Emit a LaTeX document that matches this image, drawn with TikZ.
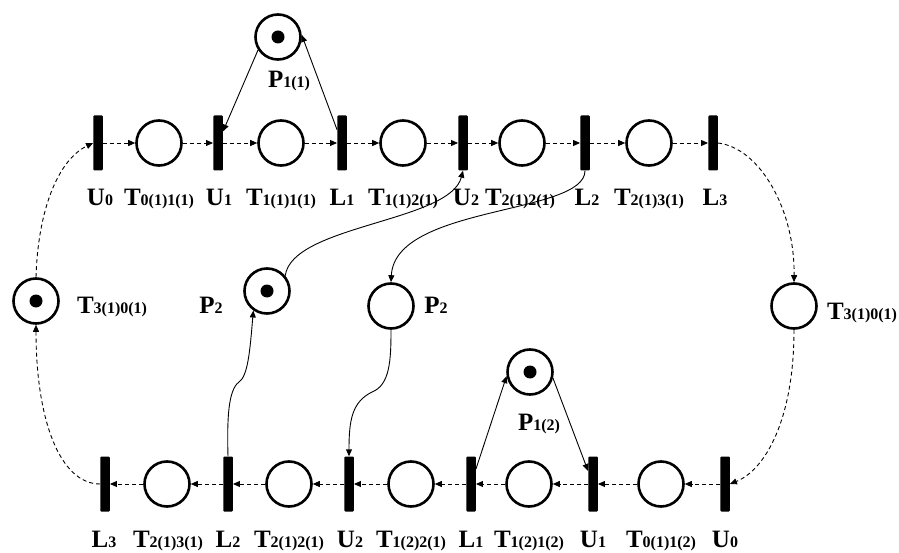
\documentclass[tikz,border=0pt]{standalone}
\usepackage{fontspec}
\setmainfont{Liberation Serif}
\usetikzlibrary{arrows.meta}

% bold name with a smaller index set on the baseline
\newcommand\plbl[2]{\textbf{#1{\fontsize{16}{16}\selectfont #2}}}

\begin{document}
\begin{tikzpicture}[x=1pt,y=-1pt,
  place/.style={circle,draw,line width=2.6pt,minimum size=45pt,inner sep=0pt},
  token/.style={place,path picture={\fill (path picture bounding box.center) circle (6.5pt);}},
  bar/.style={rectangle,fill,minimum width=9.5pt,minimum height=55pt,inner sep=0pt,rounded corners=1pt},
  lbl/.style={anchor=base,font=\fontsize{25}{25}\selectfont,inner sep=0pt},
  tip/.style={-{Triangle[length=7pt,width=6pt]}},
  dasharr/.style={tip,line width=0.9pt,dash pattern=on 4pt off 3pt},
  solidarr/.style={tip,line width=0.9pt}]

\useasboundingbox (0,0) rectangle (899,553);

% ---- upper row ----
\node[bar]   (tU0) at (98,143)  {};
\node[place] (tA)  at (159,143) {};
\node[bar]   (tU1) at (218,143) {};
\node[place] (tB)  at (281,143) {};
\node[bar]   (tL1) at (342,143) {};
\node[place] (tC)  at (403,143) {};
\node[bar]   (tU2) at (463,143) {};
\node[place] (tD)  at (522,143) {};
\node[bar]   (tL2) at (585,143) {};
\node[place] (tE)  at (649,143) {};
\node[bar]   (tL3) at (713,143) {};

\node[lbl] (ltU0) at (100,206) {\plbl{U}{0}};
\node[lbl] (ltA)  at (159,206) {\plbl{T}{0(1)1(1)}};
\node[lbl] (ltU1) at (219,206) {\plbl{U}{1}};
\node[lbl] (ltB)  at (281,206) {\plbl{T}{1(1)1(1)}};
\node[lbl] (ltL1) at (342,206) {\plbl{L}{1}};
\node[lbl] (ltC)  at (403,206) {\plbl{T}{1(1)2(1)}};
\node[lbl] (ltU2) at (466,206) {\plbl{U}{2}};
\node[lbl] (ltD)  at (520,206) {\plbl{T}{2(1)2(1)}};
\node[lbl] (ltL2) at (587,206) {\plbl{L}{2}};
\node[lbl] (ltE)  at (649,206) {\plbl{T}{2(1)3(1)}};
\node[lbl] (ltL3) at (715,206) {\plbl{L}{3}};

% ---- lower row ----
\node[bar]   (bL3) at (105,484) {};
\node[place] (bA)  at (167,484) {};
\node[bar]   (bL2) at (228,484) {};
\node[place] (bB)  at (289,484) {};
\node[bar]   (bU2) at (349,484) {};
\node[place] (bC)  at (411,484) {};
\node[bar]   (bL1) at (471,484) {};
\node[place] (bD)  at (529,484) {};
\node[bar]   (bU1) at (593,484) {};
\node[place] (bE)  at (661,484) {};
\node[bar]   (bU0) at (725,484) {};

\node[lbl] (lbL3) at (104,547) {\plbl{L}{3}};
\node[lbl] (lbA)  at (168,547) {\plbl{T}{2(1)3(1)}};
\node[lbl] (lbL2) at (228,547) {\plbl{L}{2}};
\node[lbl] (lbB)  at (289,547) {\plbl{T}{2(1)2(1)}};
\node[lbl] (lbU2) at (350,547) {\plbl{U}{2}};
\node[lbl] (lbC)  at (411,547) {\plbl{T}{1(2)2(1)}};
\node[lbl] (lbL1) at (471,547) {\plbl{L}{1}};
\node[lbl] (lbD)  at (529,547) {\plbl{T}{1(2)1(2)}};
\node[lbl] (lbU1) at (593,547) {\plbl{U}{1}};
\node[lbl] (lbE)  at (661,547) {\plbl{T}{0(1)1(2)}};
\node[lbl] (lbU0) at (725,547) {\plbl{U}{0}};

% ---- resource places and return places ----
\node[token] (p11) at (278,37)  {};
\node[token] (p12) at (530,372) {};
\node[token] (p2a) at (267,291) {};
\node[place] (p2b) at (391,306) {};
\node[token] (rL)  at (36,301)  {};
\node[place] (rR)  at (794,306) {};

\node[lbl] (lp11) at (289,88)  {\plbl{P}{1(1)}};
\node[lbl] (lp12) at (539,430) {\plbl{P}{1(2)}};
\node[lbl] (lp2a) at (211,313) {\plbl{P}{2}};
\node[lbl] (lp2b) at (436,313) {\plbl{P}{2}};
\node[lbl] (lrL)  at (112,313) {\plbl{T}{3(1)0(1)}};
\node[lbl] (lrR)  at (862,319) {\plbl{T}{3(1)0(1)}};

% ---- flow along the rows ----
\foreach \a/\b in {tU0/tA,tA/tU1,tU1/tB,tB/tL1,tL1/tC,tC/tU2,tU2/tD,tD/tL2,tL2/tE,tE/tL3,
                   bU0/bE,bE/bU1,bU1/bD,bD/bL1,bL1/bC,bC/bU2,bU2/bB,bB/bL2,bL2/bA,bA/bL3}
  \draw[dasharr] (\a) -- (\b);

% ---- return loops ----
\draw[dasharr] (tL3.east) .. controls (760,148) and (795,210) .. (rR.north);
\draw[dasharr] (rR.south) .. controls (794,420) and (765,470) .. (bU0.east);
\draw[dasharr] (bL3.west) .. controls (60,484) and (36,420) .. (rL.south);
\draw[dasharr] (rL.north) .. controls (38,210) and (58,160) .. (tU0.west);

% ---- resource arcs ----
\draw[solidarr] (p11.213) -- (tU1);
\draw[solidarr] (tL1) -- (p11.5);
\draw[solidarr] (bL1) -- (p12.190);
\draw[solidarr] (p12.-15) -- (bU1);

\draw[solidarr] (p2a.40) .. controls (292,225) and (450,222) .. (tU2.south);
\draw[solidarr] (tL2.south) .. controls (585,215) and (395,205) .. (p2b.north);
\draw[solidarr] (p2b.south) .. controls (391,360) and (390,385) .. (372,392)
                            .. controls (352,402) and (349,420) .. (bU2.north);
\draw[solidarr] (bL2.north) .. controls (227,420) and (228,390) .. (239,382)
                            .. controls (248,376) and (250,350) .. (p2a.-125);
\end{tikzpicture}
\end{document}
